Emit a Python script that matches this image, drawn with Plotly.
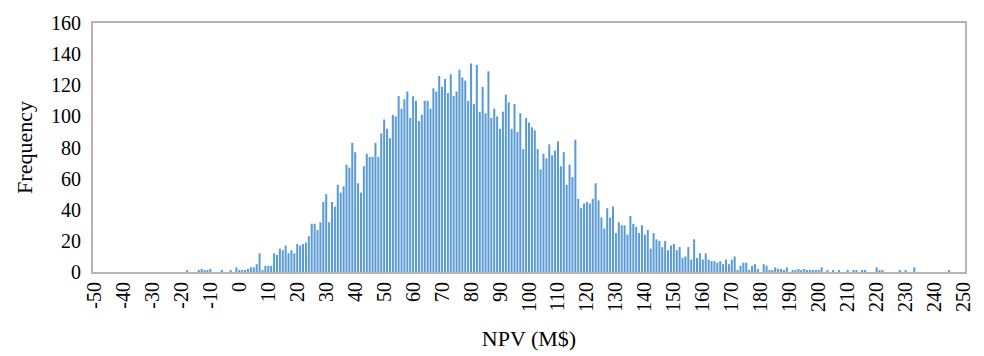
import plotly.graph_objects as go

# NPV bins (M$), one per integer from -50 to 250
npv_bins = list(range(-50, 251))

# Frequency per bin, listed in ranges of the NPV axis
freq_neg50_to_neg1 = [0] * 32 + [1, 0, 0, 0, 1, 2, 1, 1, 2, 0, 0, 0, 1, 0, 0, 1, 0, 3]
freq_0_to_49 = [1, 1, 1, 2, 3, 3, 5, 12, 1, 4,
                4, 4, 12, 11, 15, 14, 17, 12, 14, 12,
                18, 17, 18, 19, 23, 31, 31, 27, 32, 45,
                50, 32, 45, 42, 56, 51, 55, 69, 67, 83,
                77, 57, 51, 68, 76, 74, 74, 83, 74, 89]
freq_50_to_99 = [98, 92, 86, 101, 100, 113, 105, 111, 116, 99,
                 113, 110, 97, 101, 110, 110, 105, 118, 116, 126,
                 119, 124, 115, 127, 113, 116, 130, 125, 123, 110,
                 134, 108, 133, 103, 119, 102, 129, 99, 105, 100,
                 92, 103, 114, 109, 92, 108, 90, 102, 79, 99]
freq_100_to_149 = [96, 93, 91, 79, 66, 76, 73, 82, 75, 78,
                   84, 68, 77, 56, 69, 61, 85, 47, 41, 44,
                   45, 44, 47, 57, 46, 35, 28, 41, 35, 42,
                   25, 32, 30, 30, 24, 36, 31, 29, 25, 30,
                   24, 27, 15, 25, 21, 20, 16, 20, 14, 17]
freq_150_to_199 = [18, 14, 16, 9, 10, 16, 8, 21, 9, 12,
                   8, 12, 8, 7, 7, 6, 7, 5, 8, 5,
                   8, 10, 1, 4, 6, 6, 1, 4, 5, 2,
                   0, 5, 4, 1, 1, 3, 2, 2, 1, 3,
                   0, 1, 1, 2, 1, 2, 1, 1, 1, 1]
freq_200_to_250 = [1, 3, 0, 1, 0, 1, 0, 1, 0, 0,
                   1, 0, 1, 1, 0, 1, 1, 0, 0, 0,
                   3, 1, 1, 0, 0, 0, 0, 0, 1, 0,
                   1, 0, 0, 3, 0, 0, 0, 0, 0, 0,
                   0, 0, 0, 0, 0, 1, 0, 0, 0, 0, 0]

frequency = (freq_neg50_to_neg1 + freq_0_to_49 + freq_50_to_99
             + freq_100_to_149 + freq_150_to_199 + freq_200_to_250)

x_tick_values = list(range(-50, 251, 10))
y_tick_values = list(range(0, 161, 20))

serif = "Liberation Serif, Times New Roman, serif"
frame = "#b4b4b4"

fig = go.Figure(
    go.Bar(
        x=npv_bins,
        y=frequency,
        marker=dict(color="#5b9bd5", line=dict(width=0)),
    )
)

fig.update_layout(
    width=984,
    height=356,
    margin=dict(l=93, r=19, t=17, b=84),
    paper_bgcolor="white",
    plot_bgcolor="white",
    bargap=0.3,
    showlegend=False,
    font=dict(family=serif, color="#000000"),
)

fig.update_xaxes(
    range=[-50.5, 250.5],
    tickmode="array",
    tickvals=x_tick_values,
    ticktext=[str(v) for v in x_tick_values],
    tickangle=-90,
    tickfont=dict(family=serif, size=20, color="#000000"),
    showgrid=False,
    zeroline=False,
    showline=True,
    mirror=True,
    linecolor=frame,
    linewidth=2,
    ticks="",
    ticklen=0,
    automargin=False,
    title=dict(text="NPV (M$)", font=dict(family=serif, size=22, color="#000000"), standoff=20),
)

fig.update_yaxes(
    range=[0, 160],
    tickmode="array",
    tickvals=y_tick_values,
    tickfont=dict(family=serif, size=20, color="#000000"),
    showgrid=False,
    zeroline=False,
    showline=True,
    mirror=True,
    linecolor=frame,
    linewidth=2,
    ticks="",
    ticklabelstandoff=6,
    title=dict(text="Frequency", font=dict(family=serif, size=22, color="#000000"), standoff=12),
)

fig.write_html("out.html")
